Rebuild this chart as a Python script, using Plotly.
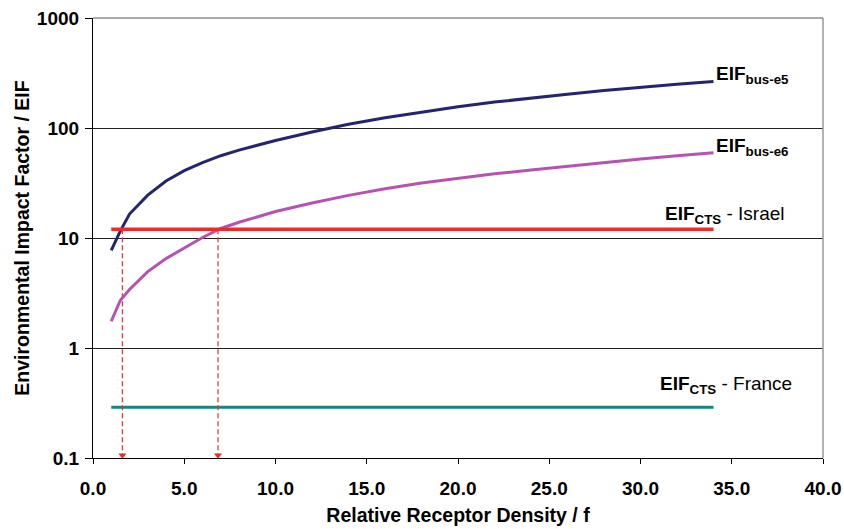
import math
import plotly.graph_objects as go

f_vals = [1, 1.5, 2, 3, 4, 5, 6, 7, 8, 10, 12, 14, 16, 18, 20, 22, 24, 26, 28, 30, 32, 34]
eif_bus_e5 = [7.7, 11.6, 16.5, 24.5, 33, 41, 48.5, 56, 63, 77, 92, 108, 124, 140, 156, 172, 188, 203, 219, 235, 250, 265]
eif_bus_e6 = [1.75, 2.72, 3.4, 4.95, 6.5, 8.05, 10.1, 12.2, 13.9, 17.4, 20.8, 24.4, 28, 31.6, 35, 38.3, 41.6, 45, 48.5, 52.3, 56, 59.5]
cts_f = [1, 34]
cts_israel = [12, 12]
cts_france = [0.29, 0.29]
cross_f = [1.61, 6.85]
cross_eif = 12

x_ticks = [0, 5, 10, 15, 20, 25, 30, 35, 40]
x_ticklabels = ["0.0", "5.0", "10.0", "15.0", "20.0", "25.0", "30.0", "35.0", "40.0"]
y_ticks = [0.1, 1, 10, 100, 1000]
y_ticklabels = ["0.1", "1", "10", "100", "1000"]

navy = "#25256F"
magenta = "#B653B0"
red = "#EE2B2B"
teal = "#178383"
FONT = "Liberation Sans, Arial, sans-serif"

fig = go.Figure()
fig.add_trace(go.Scatter(x=cts_f, y=cts_france, mode="lines", line=dict(color=teal, width=3)))
# dashed drop lines
for cf in cross_f:
    fig.add_trace(go.Scatter(x=[cf, cf], y=[cross_eif, 0.108], mode="lines",
                             line=dict(color=red, width=1.2, dash="5px,3px")))
    fig.add_trace(go.Scatter(x=[cf], y=[0.106], mode="markers",
                             marker=dict(symbol="triangle-down", size=7, color=red)))
fig.add_trace(go.Scatter(x=f_vals, y=eif_bus_e6, mode="lines", line=dict(color=magenta, width=3)))
fig.add_trace(go.Scatter(x=f_vals, y=eif_bus_e5, mode="lines", line=dict(color=navy, width=3)))
fig.add_trace(go.Scatter(x=cts_f, y=cts_israel, mode="lines", line=dict(color=red, width=3.5)))

ann_font = dict(family=FONT, size=19, color="black")
fig.add_annotation(x=f_vals[-1], y=math.log10(eif_bus_e5[-1]), xref="x", yref="y",
                   text="<b>EIF<sub>bus-e5</sub></b>", showarrow=False,
                   xanchor="left", yanchor="bottom", xshift=0, yshift=-8, font=ann_font)
fig.add_annotation(x=f_vals[-1], y=math.log10(eif_bus_e6[-1]), xref="x", yref="y",
                   text="<b>EIF<sub>bus-e6</sub></b>", showarrow=False,
                   xanchor="left", yanchor="bottom", xshift=0, yshift=-8, font=ann_font)
fig.add_annotation(x=38.0, y=math.log10(cts_israel[0]), xref="x", yref="y",
                   text="<b>EIF<sub>CTS</sub></b> - Israel", showarrow=False,
                   xanchor="right", yanchor="bottom", yshift=0, font=ann_font)
fig.add_annotation(x=38.4, y=math.log10(cts_france[0]), xref="x", yref="y",
                   text="<b>EIF<sub>CTS</sub></b> - France", showarrow=False,
                   xanchor="right", yanchor="bottom", yshift=8, font=ann_font)

# right border and top line
fig.add_shape(type="line", xref="paper", yref="paper", x0=1, x1=1, y0=0, y1=1,
              line=dict(color="#999999", width=1.5))
fig.add_shape(type="line", xref="paper", yref="paper", x0=0, x1=1, y0=1, y1=1,
              line=dict(color="#555555", width=1))

fig.update_layout(
    width=844, height=529,
    margin=dict(l=93, r=21, t=18, b=71),
    paper_bgcolor="white", plot_bgcolor="white",
    showlegend=False,
    font=dict(family=FONT, color="black"),
)
fig.update_xaxes(
    range=[0, 40], tickvals=x_ticks, ticktext=x_ticklabels,
    showgrid=False, zeroline=False, automargin=False,
    showline=True, linecolor="black", linewidth=1.2,
    ticks="outside", ticklen=5, tickcolor="black", ticklabelstandoff=8,
    tickfont=dict(family=FONT, size=19, weight="bold"),
    title=dict(text="<b>Relative Receptor Density / f</b>", font=dict(family=FONT, size=19.5), standoff=10),
)
fig.update_yaxes(
    type="log", range=[-1, 3], tickvals=y_ticks, ticktext=y_ticklabels,
    showgrid=True, gridcolor="#222222", gridwidth=1,
    zeroline=False, automargin=False,
    showline=True, linecolor="black", linewidth=1.2,
    ticks="outside", ticklen=7, tickcolor="black", ticklabelstandoff=2,
    tickfont=dict(family=FONT, size=19, weight="bold"),
    title=dict(text="<b>Environmental Impact Factor / EIF</b>", font=dict(family=FONT, size=19.5), standoff=1),
)

fig.write_html("out.html", config={"displayModeBar": False},
               post_script="document.body.style.margin='0';")
